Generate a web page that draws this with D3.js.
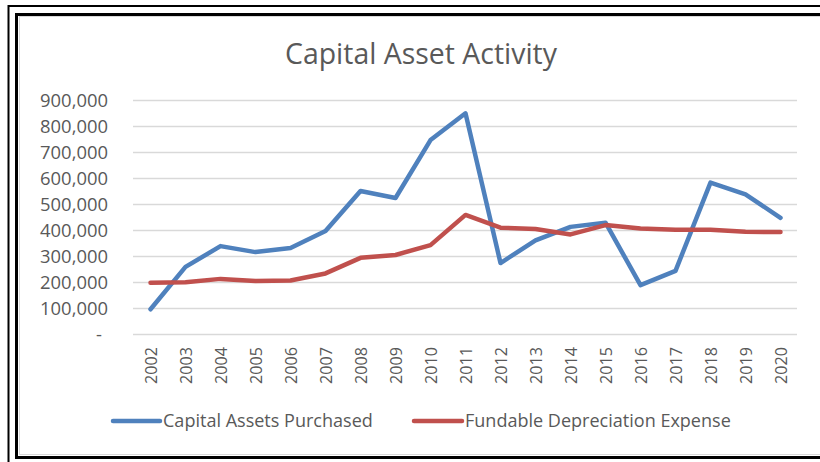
<!DOCTYPE html>
<html><head><meta charset="utf-8">
<script src="https://cdn.jsdelivr.net/npm/d3@7"></script>
<style>body{margin:0;background:#fff}svg{display:block}</style>
</head><body>
<script>
const years = ["2002","2003","2004","2005","2006","2007","2008","2009","2010","2011","2012","2013","2014","2015","2016","2017","2018","2019","2020"];
const purchased = [95000,258000,338000,315000,331000,396000,550000,523000,746000,849000,273000,360000,412000,428000,188000,243000,582000,537000,447000];
const depreciation = [197000,199000,212000,204000,206000,233000,293000,304000,342000,458000,409000,404000,383000,419000,406000,401000,401000,393000,392000];
const yTicks = [0,100000,200000,300000,400000,500000,600000,700000,800000,900000];
const seriesNames = ["Capital Assets Purchased","Fundable Depreciation Expense"];
const colors = ["#4F81BD","#C0504D"];

const W=820,H=462;
const svg=d3.select("body").append("svg").attr("width",W).attr("height",H);
const font="'Open Sans', sans-serif";

// scale a font size so a sample string has a target width
function fitSize(str, target, base){
  const t=svg.append("text").attr("font-family",font).attr("font-size",base).text(str);
  const w=t.node().getComputedTextLength(); t.remove();
  return base*target/w;
}

// borders
svg.append("line").attr("x1",8.5).attr("x2",8.5).attr("y1",5).attr("y2",462).attr("stroke","#000").attr("stroke-width",2);
svg.append("line").attr("x1",8).attr("x2",820).attr("y1",6).attr("y2",6).attr("stroke","#000").attr("stroke-width",2);
svg.append("line").attr("x1",16.5).attr("x2",16.5).attr("y1",13).attr("y2",459).attr("stroke","#000").attr("stroke-width",3);
svg.append("line").attr("x1",15).attr("x2",820).attr("y1",14.5).attr("y2",14.5).attr("stroke","#000").attr("stroke-width",3);
svg.append("line").attr("x1",15).attr("x2",820).attr("y1",457.5).attr("y2",457.5).attr("stroke","#000").attr("stroke-width",3);
svg.append("rect").attr("x",19.5).attr("y",16.5).attr("width",820).attr("height",438).attr("fill","none").attr("stroke","#d9d9d9").attr("stroke-width",1);

const x=d3.scalePoint().domain(years).range([150.5,780.5]);
const y=d3.scaleLinear().domain([0,900000]).range([334,100]);

// gridlines
svg.append("g").selectAll("line").data(yTicks).join("line")
  .attr("x1",133).attr("x2",797).attr("y1",d=>Math.round(y(d))+0.5).attr("y2",d=>Math.round(y(d))+0.5)
  .attr("stroke","#d9d9d9").attr("stroke-width",1.5);

// y axis labels
const yFs=fitSize("900,000",68,16);
const yAxis=d3.axisLeft(y).tickValues(yTicks).tickSize(0).tickPadding(0)
  .tickFormat(d=>d===0?"-":d3.format(",")(d));
const ga=svg.append("g").attr("transform","translate(108,0)").call(yAxis);
ga.select(".domain").remove();
ga.selectAll("text").attr("font-family",font).attr("font-size",yFs).attr("fill","#595959").attr("dy","0.35em");
ga.selectAll(".tick").filter(d=>d===0).select("text").attr("transform","translate(-6,0)");

// x axis labels
const xFs=fitSize("2002",37,16);
const xAxis=d3.axisBottom(x).tickSize(0).tickPadding(0);
const gx=svg.append("g").attr("transform","translate(0,342)").call(xAxis);
gx.select(".domain").remove();
gx.selectAll("text").attr("font-family",font).attr("font-size",xFs).attr("fill","#595959")
  .attr("transform","rotate(-90)").attr("text-anchor","end").attr("dy","0.35em").attr("x",-5).attr("y",0);

// lines
const line=d3.line().x((d,i)=>x(years[i])).y(d=>y(d));
[purchased,depreciation].forEach((s,k)=>{
  svg.append("path").datum(s).attr("d",line).attr("fill","none").attr("stroke",colors[k])
    .attr("stroke-width",4.5).attr("stroke-linejoin","round").attr("stroke-linecap","round");
});

// title
const tFs=fitSize("Capital Asset Activity",272,24);
svg.append("text").attr("x",421).attr("y",64).attr("text-anchor","middle")
  .attr("font-family",font).attr("font-size",tFs).attr("fill","#595959").text("Capital Asset Activity");

// legend
const lFs=fitSize(seriesNames[0],210,16);
const leg=[{x1:113,x2:160,tx:163},{x1:414,x2:462,tx:465}];
leg.forEach((l,k)=>{
  svg.append("line").attr("x1",l.x1).attr("x2",l.x2).attr("y1",421).attr("y2",421)
    .attr("stroke",colors[k]).attr("stroke-width",4.5).attr("stroke-linecap","round");
  svg.append("text").attr("x",l.tx).attr("y",421).attr("dy","0.35em").attr("font-family",font)
    .attr("font-size",lFs).attr("fill","#595959").text(seriesNames[k]);
});
</script>
</body></html>
